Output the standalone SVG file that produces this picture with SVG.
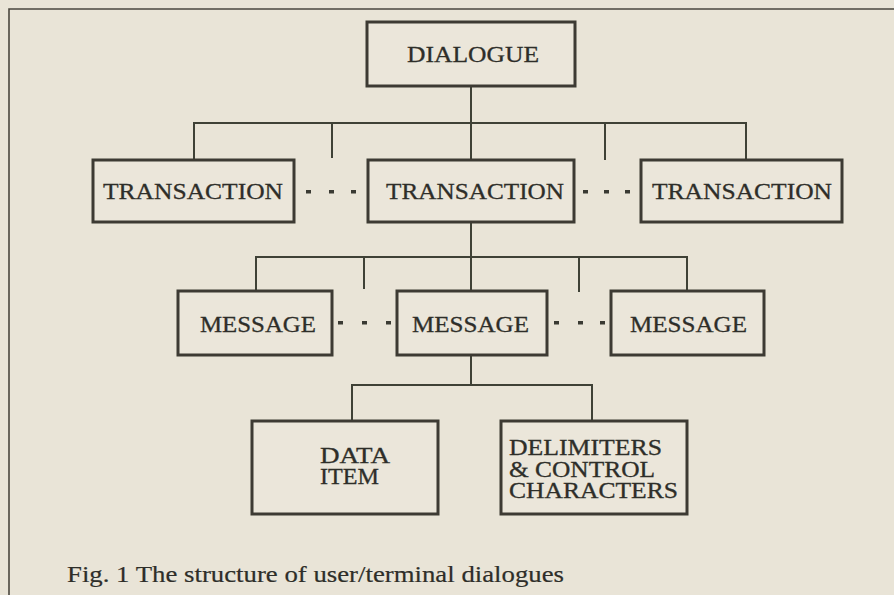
<svg xmlns="http://www.w3.org/2000/svg" width="894" height="595" viewBox="0 0 894 595">
<style>
.bg{fill:#e9e4d7}
.frame{fill:none;stroke:#4a463f;stroke-width:1.6}
.box{fill:#ebe6da;stroke:#3d3a33;stroke-width:3}
.conn{fill:none;stroke:#3f4136;stroke-width:2}
.dot{fill:#3a3a33}
.t{font-family:"Liberation Serif","Times New Roman",serif;font-size:24px;fill:#2e2e29;stroke:#2e2e29;stroke-width:0.3}
.m{font-family:"Liberation Serif","Times New Roman",serif;font-size:22.5px;fill:#2e2e29;stroke:#2e2e29;stroke-width:0.3}
.cap{font-family:"Liberation Serif","Times New Roman",serif;font-size:24px;fill:#2e2e29;stroke:#2e2e29;stroke-width:0.2}
</style>
<rect class="bg" x="0" y="0" width="894" height="595"/>
<path class="frame" d="M9,595 V9 H894"/>
<g id="connectors">
<path class="conn" d="M471,86 V160 M194,160 V123 H746 V160 M332,123 V158 M605,123 V160"/>
<path class="conn" d="M471,222 V291 M256,291 V257 H687 V291 M364,257 V289 M579,257 V292"/>
<path class="conn" d="M471,355 V385 M352,421 V385 H592 V421"/>
<g class="dot">
<rect x="306" y="190" width="5" height="3.5"/><rect x="329" y="190" width="5" height="3.5"/><rect x="351" y="190" width="5" height="3.5"/>
<rect x="583" y="190" width="5" height="3.5"/><rect x="604" y="190" width="5" height="3.5"/><rect x="625" y="190" width="5" height="3.5"/>
<rect x="338" y="321" width="5" height="3.5"/><rect x="362" y="321" width="5" height="3.5"/><rect x="386" y="321" width="5" height="3.5"/>
<rect x="554" y="321" width="5" height="3.5"/><rect x="578" y="321" width="5" height="3.5"/><rect x="600" y="321" width="5" height="3.5"/>
</g>
</g>
<g id="dialogue"><rect class="box" x="367" y="22" width="208" height="64"/><text class="t" x="407" y="62" textLength="132" lengthAdjust="spacingAndGlyphs">DIALOGUE</text></g>
<g id="transaction-left"><rect class="box" x="93" y="160" width="201" height="62"/><text class="t" x="103" y="199" textLength="180" lengthAdjust="spacingAndGlyphs">TRANSACTION</text></g>
<g id="transaction-mid"><rect class="box" x="368" y="160" width="206" height="62"/><text class="t" x="386" y="199" textLength="178" lengthAdjust="spacingAndGlyphs">TRANSACTION</text></g>
<g id="transaction-right"><rect class="box" x="641" y="160" width="201" height="62"/><text class="t" x="652" y="199" textLength="180" lengthAdjust="spacingAndGlyphs">TRANSACTION</text></g>
<g id="message-left"><rect class="box" x="178" y="291" width="154" height="64"/><text class="t" x="200" y="332" textLength="116" lengthAdjust="spacingAndGlyphs">MESSAGE</text></g>
<g id="message-mid"><rect class="box" x="397" y="291" width="150" height="64"/><text class="t" x="412" y="332" textLength="117" lengthAdjust="spacingAndGlyphs">MESSAGE</text></g>
<g id="message-right"><rect class="box" x="611" y="291" width="153" height="64"/><text class="t" x="630" y="332" textLength="117" lengthAdjust="spacingAndGlyphs">MESSAGE</text></g>
<g id="data-item"><rect class="box" x="252" y="421" width="186" height="93"/>
<text class="m" x="320" y="463" textLength="70" lengthAdjust="spacingAndGlyphs">DATA</text>
<text class="m" x="320" y="484" textLength="59" lengthAdjust="spacingAndGlyphs">ITEM</text></g>
<g id="delimiters"><rect class="box" x="501" y="421" width="186" height="93"/>
<text class="m" x="509" y="455" textLength="153" lengthAdjust="spacingAndGlyphs">DELIMITERS</text>
<text class="m" x="509" y="477" textLength="146" lengthAdjust="spacingAndGlyphs">&amp; CONTROL</text>
<text class="m" x="509" y="498" textLength="169" lengthAdjust="spacingAndGlyphs">CHARACTERS</text></g>
<text class="cap" x="67" y="582" textLength="497" lengthAdjust="spacingAndGlyphs">Fig. 1 The structure of user/terminal dialogues</text>
</svg>
